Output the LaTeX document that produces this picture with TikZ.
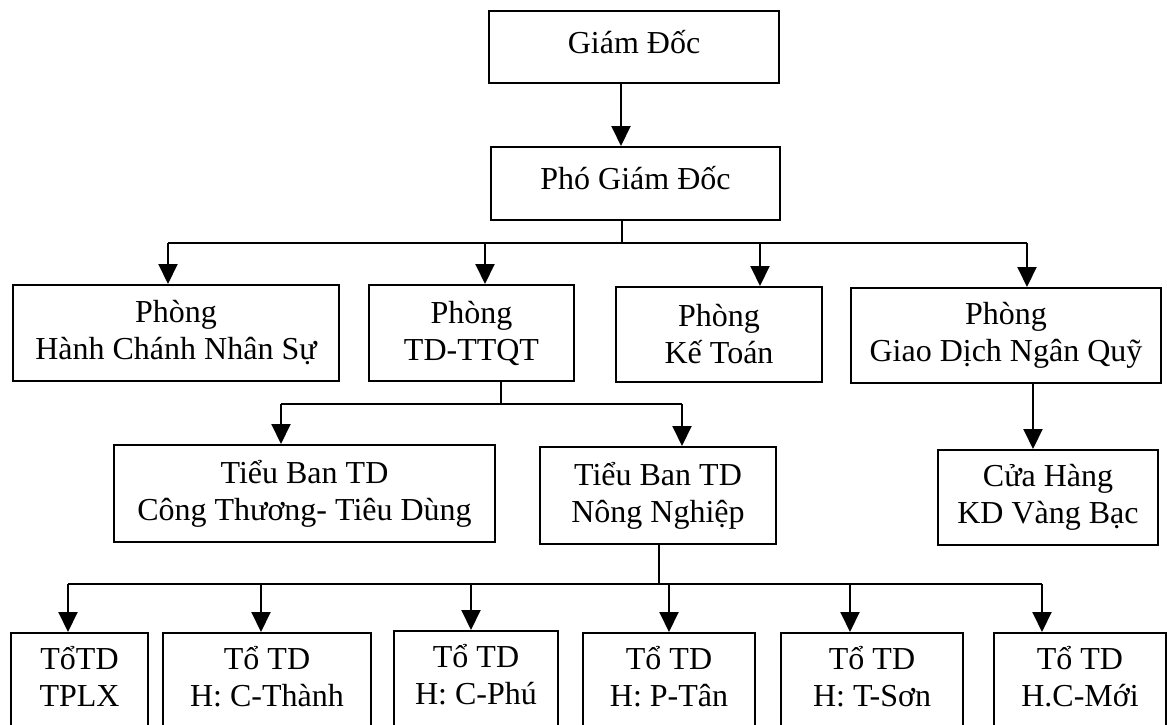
\documentclass[tikz,border=0pt]{standalone}
\usepackage{fontspec}
\setmainfont{Liberation Serif}
\usetikzlibrary{arrows.meta}

\begin{document}
\begin{tikzpicture}[x=1pt,y=-1pt,line width=2pt,>={Triangle[length=20pt,width=19pt]},
  font=\fontsize{32}{37}\selectfont,
  box/.style={draw,align=center,inner sep=0pt,anchor=north west},
  single/.style={text height=22pt,text depth=10pt}]
\useasboundingbox (0,0) rectangle (1167,725);
\clip (0,0) rectangle (1167,725);
\node[box,single,minimum width=290,minimum height=72] (gd) at (488,10) {Giám Đốc};
\node[box,single,minimum width=289,minimum height=73] (pgd) at (490,146) {Phó Giám Đốc};
\node[box,minimum width=326,minimum height=96] (hc) at (12,284) {Phòng\\Hành Chánh Nhân Sự};
\node[box,minimum width=205,minimum height=96] (ttqt) at (368,284) {Phòng\\TD-TTQT};
\node[box,minimum width=206,minimum height=95] (kt) at (615,286) {Phòng\\Kế Toán};
\node[box,minimum width=310,minimum height=95] (gdnq) at (850,287) {Phòng\\Giao Dịch Ngân Quỹ};
\node[box,minimum width=381,minimum height=97] (ct) at (113,444) {Tiểu Ban TD\\Công Thương- Tiêu Dùng};
\node[box,minimum width=236,minimum height=97] (nn) at (539,446) {Tiểu Ban TD\\Nông Nghiệp};
\node[box,minimum width=220,minimum height=95] (ch) at (937,449) {Cửa Hàng\\KD Vàng Bạc};
\node[box,minimum width=137,minimum height=124] (t1) at (10,632) {TổTD\\TPLX\\\phantom{T}};
\node[box,minimum width=208,minimum height=124] (t2) at (162,632) {Tổ TD\\H: C-Thành\\\phantom{T}};
\node[box,minimum width=164,minimum height=124] (t3) at (393,630) {Tổ TD\\H: C-Phú\\\phantom{T}};
\node[box,minimum width=172,minimum height=124] (t4) at (582,632) {Tổ TD\\H: P-Tân\\\phantom{T}};
\node[box,minimum width=182,minimum height=124] (t5) at (780,632) {Tổ TD\\H: T-Sơn\\\phantom{T}};
\node[box,minimum width=172,minimum height=124] (t6) at (993,632) {Tổ TD\\H.C-Mới\\\phantom{T}};

\coordinate (a0) at (621,0);
\draw[->] (gd.south -| a0) -- (pgd.north -| a0);

\coordinate (bus1) at (622,243);
\draw (pgd.south -| bus1) -- (bus1);
\foreach \x/\n in {168/hc,485/ttqt,760/kt,1027/gdnq}
  \coordinate (d\n) at (\x,243);
\draw (dhc) -- (dgdnq);
\foreach \n in {hc,ttqt,kt,gdnq}
  \draw[->] (d\n) -- (d\n |- \n.north);

\coordinate (bus2) at (501,404);
\draw (ttqt.south -| bus2) -- (bus2);
\coordinate (dct) at (281,404);
\coordinate (dnn) at (682,404);
\draw (dct) -- (dnn);
\foreach \n in {ct,nn}
  \draw[->] (d\n) -- (d\n |- \n.north);

\coordinate (dch) at (1033,0);
\draw[->] (gdnq.south -| dch) -- (ch.north -| dch);

\coordinate (bus3) at (659,584);
\draw (nn.south -| bus3) -- (bus3);
\foreach \x/\n in {68/t1,261/t2,471/t3,669/t4,850/t5,1042/t6}
  \coordinate (d\n) at (\x,584);
\draw (dt1) -- (dt6);
\foreach \n in {t1,t2,t3,t4,t5,t6}
  \draw[->] (d\n) -- (d\n |- \n.north);
\end{tikzpicture}
\end{document}
